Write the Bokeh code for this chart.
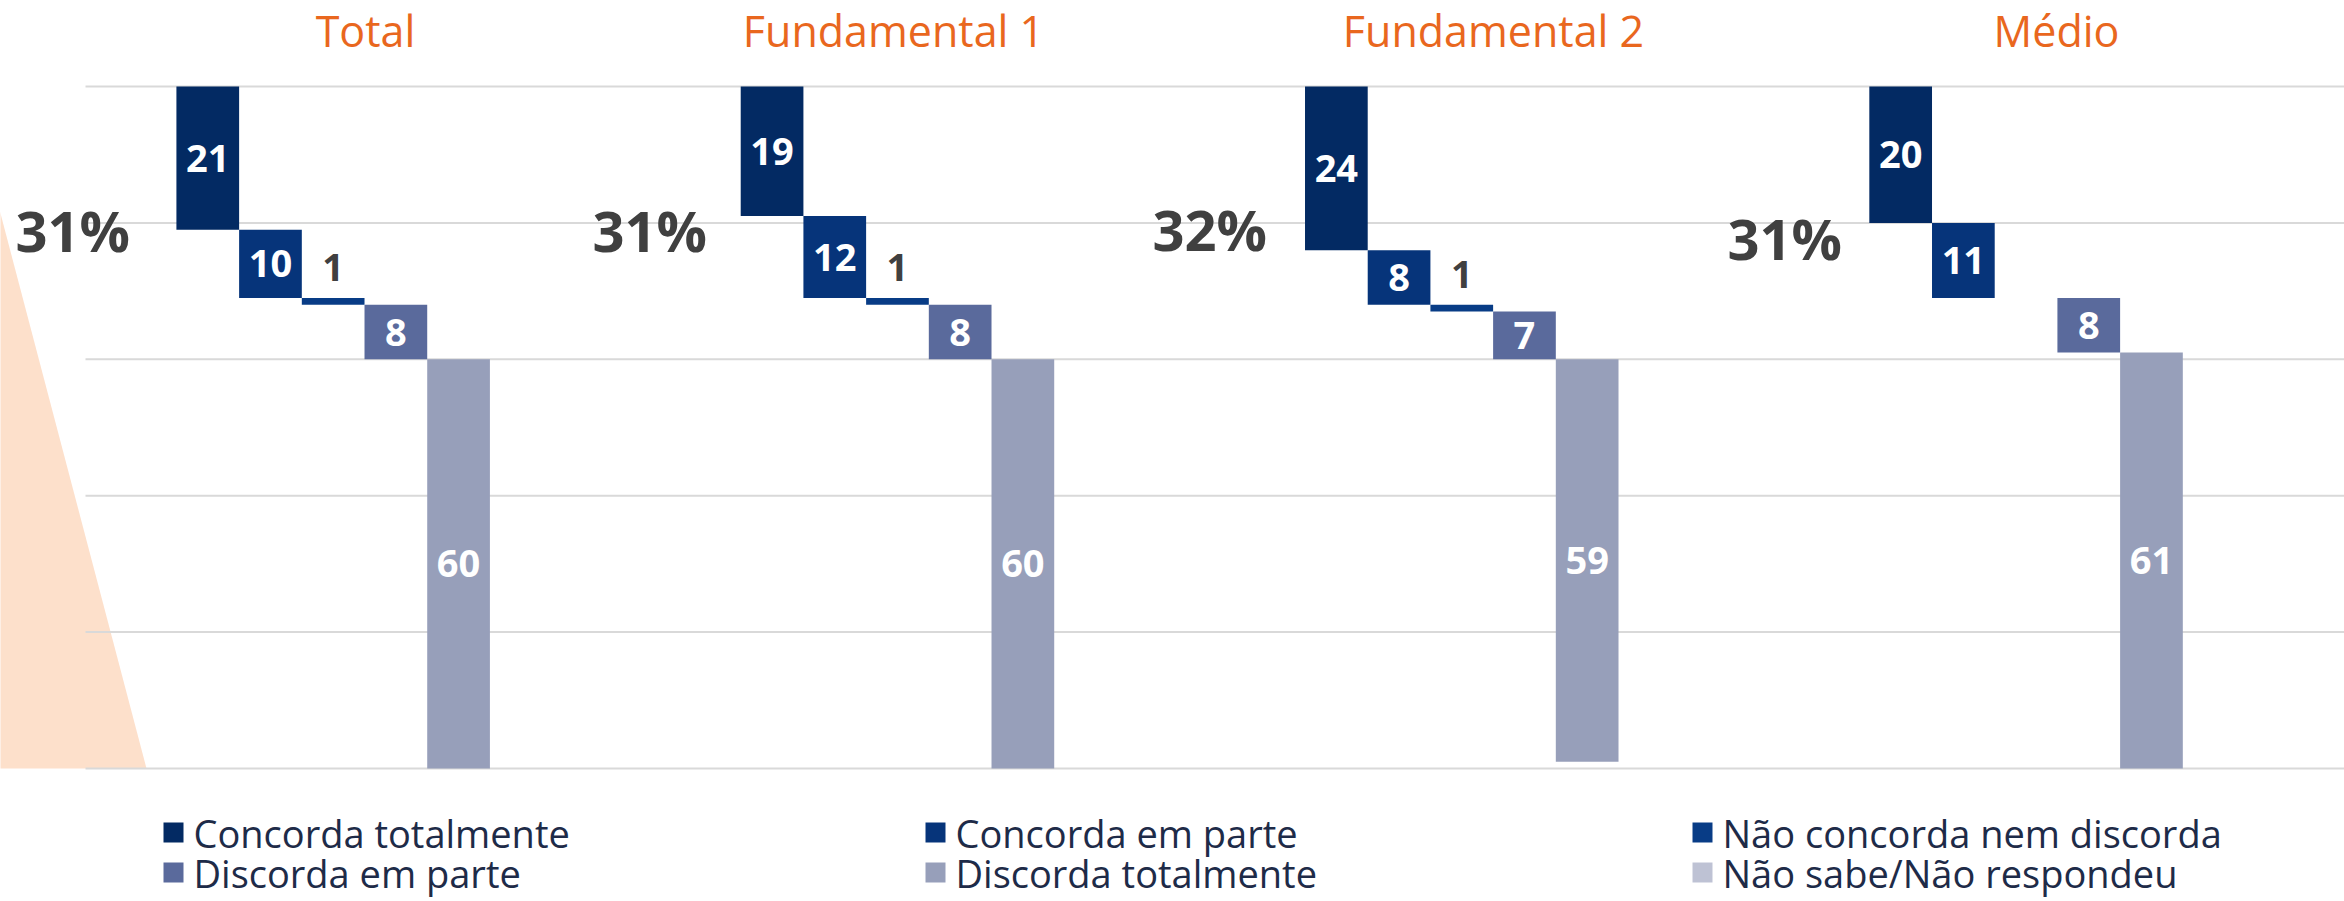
from bokeh.plotting import figure
from bokeh.models import Range1d
from bokeh.core.properties import value
from bokeh.embed import file_html
from bokeh.resources import INLINE

# ---------------- data ----------------
groups = ["Total", "Fundamental 1", "Fundamental 2", "Médio"]
series = ["Concorda totalmente", "Concorda em parte", "Não concorda nem discorda",
          "Discorda em parte", "Discorda totalmente", "Não sabe/Não respondeu"]
concorda_totalmente = [21, 19, 24, 20]
concorda_em_parte = [10, 12, 8, 11]
nem_concorda_nem_discorda = [1, 1, 1, 0]
discorda_em_parte = [8, 8, 7, 8]
discorda_totalmente = [60, 60, 59, 61]
nao_sabe = [0, 0, 0, 0]
concorda_pct = ["31%", "31%", "32%", "31%"]
y_ticks = [0, 20, 40, 60, 80, 100]

colors = ["#032a63", "#06347a", "#083c86", "#5a6a9c", "#979fba", "#bec2d4"]
values = [concorda_totalmente, concorda_em_parte, nem_concorda_nem_discorda,
          discorda_em_parte, discorda_totalmente, nao_sabe]

# ---------------- layout helpers (picture pixels -> data) ----------------
W, H = 2344, 901
PX, PY = 62.7, 6.82          # pixels per x unit / per y unit
X0, Y0 = 85, 768             # picture position of data (0, 0)


def dx(px):
    return (px - X0) / PX


def dy(py):
    return (Y0 - py) / PY


p = figure(width=W, height=H, output_backend="svg", toolbar_location=None,
           x_range=Range1d(dx(0), dx(W)), y_range=Range1d(dy(H), dy(0)),
           min_border=0, outline_line_color=None)
p.axis.visible = False
p.grid.visible = False
p.background_fill_color = "white"
p.border_fill_color = "white"

# decorative peach shape at the left
p.patch(x=[dx(-10), dx(146), dx(-10)], y=[dy(175), dy(768), dy(768)],
        fill_color="#fde0cb", line_color=None)

# horizontal gridlines
p.segment(x0=[dx(85)] * len(y_ticks), x1=[dx(2344)] * len(y_ticks),
          y0=y_ticks, y1=y_ticks, line_color="#d9d9d9", line_width=2)

# ---------------- waterfall bars ----------------
GROUP_STEP = 9
BASE = 1.95
label_x_in, label_y_in, label_t_in = [], [], []
label_x_out, label_y_out, label_t_out = [], [], []
for s, (name, vals, col) in enumerate(zip(series, values, colors)):
    xs, tops, bottoms = [], [], []
    for g in range(len(groups)):
        start = 100 - sum(values[k][g] for k in range(s))
        v = vals[g]
        xs.append(g * GROUP_STEP + BASE + s)
        tops.append(start)
        bottoms.append(start - v)
        if v >= 3:
            label_x_in.append(g * GROUP_STEP + BASE + s)
            label_y_in.append(start - v / 2)
            label_t_in.append(str(v))
        elif v > 0:
            label_x_out.append(g * GROUP_STEP + BASE + s)
            label_y_out.append(start + 4.5)
            label_t_out.append(str(v))
    p.vbar(x=xs, top=tops, bottom=bottoms, width=1.0, fill_color=col,
           line_color=None)

p.text(x=label_x_in, y=label_y_in, text=label_t_in, text_align="center",
       text_baseline="middle", text_color="white", text_font=value("Open Sans"),
       text_font_style="bold", text_font_size="38px")
p.text(x=label_x_out, y=label_y_out, text=label_t_out, text_align="center",
       text_baseline="middle", text_color="#404040", text_font=value("Open Sans"),
       text_font_style="bold", text_font_size="38px")

# group titles
title_px = [365, 893, 1493, 2056]
p.text(x=[dx(v) for v in title_px], y=[dy(30)] * 4, text=groups,
       text_align="center", text_baseline="middle", text_color="#e9671e",
       text_font=value("Open Sans"), text_font_size="43px")

# "concorda" share labels
pct_px = [15, 592, 1152, 1727]
pct_py = [229, 229, 228, 237]
p.text(x=[dx(v) for v in pct_px], y=[dy(v) for v in pct_py], text=concorda_pct,
       text_align="left", text_baseline="middle", text_color="#404040",
       text_font=value("Open Sans"), text_font_style="bold", text_font_size="56px")

# ---------------- legend (3 columns x 2 rows) ----------------
sq_px = [173, 935, 1702]
row_py = [832, 872]
lx, ly, lc, tx, ty, tt = [], [], [], [], [], []
for i, name in enumerate(series):
    r, c = divmod(i, 3)
    lx.append(dx(sq_px[c]))
    ly.append(dy(row_py[r]))
    lc.append(colors[i])
    tx.append(dx(sq_px[c] + 20))
    ty.append(dy(row_py[r]))
    tt.append(name)
p.rect(x=lx, y=ly, width=20, height=20, width_units="screen", height_units="screen",
       fill_color=lc, line_color=None)
p.text(x=tx, y=ty, text=tt, text_align="left", text_baseline="middle",
       text_color="#1e2b48", text_font=value("Open Sans"), text_font_size="38px")

open("out.html", "w").write(file_html(p, INLINE))
